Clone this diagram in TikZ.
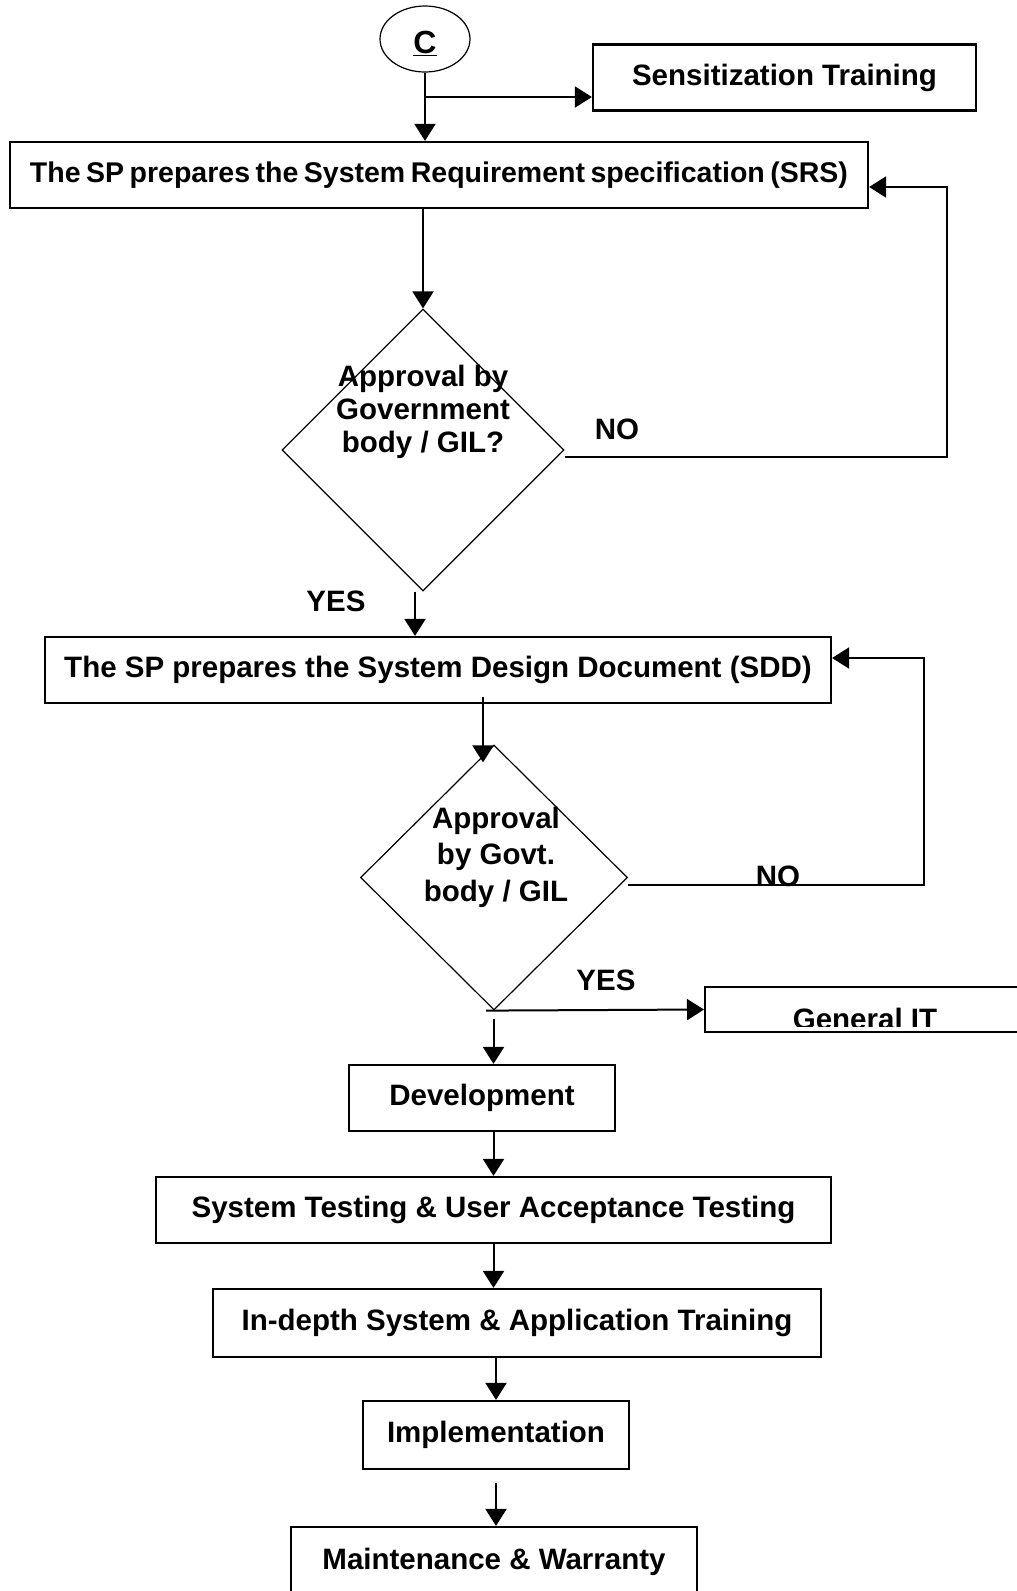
\documentclass[tikz,border=0pt]{standalone}
\usepackage{fontspec}
\setmainfont{Liberation Sans}
\newfontfamily\tightfont[WordSpace=0.7]{Liberation Sans}
\usetikzlibrary{arrows.meta, shapes.geometric}
\usepackage{xcolor}
\definecolor{Ink}{HTML}{000000}

\begin{document}
\begin{tikzpicture}[
    x=1pt, y=-1pt,
    procbox/.style={rectangle, draw=Ink, line width=2.2pt, inner sep=0pt,
        minimum height=66pt, font=\bfseries\fontsize{29.5pt}{35pt}\selectfont,
        text height=21pt, text depth=6pt},
    conlbl/.style={ellipse, draw=Ink, line width=1.2pt, inner sep=0pt,
        minimum width=90pt, minimum height=66pt,
        font=\bfseries\fontsize{32pt}{36pt}\selectfont,
        text height=32pt, text depth=4pt},
    decnode/.style={diamond, draw=Ink, line width=1.2pt, inner sep=0pt},
    dectext/.style={align=center, Ink,
        font=\bfseries\fontsize{29.5pt}{33pt}\selectfont},
    anslbl/.style={Ink, font=\bfseries\fontsize{29.5pt}{35pt}\selectfont},
    flowarr/.style={draw=Ink, line width=2pt,
        -{Triangle[length=17pt, width=21pt]}}
]
\useasboundingbox (0,0) rectangle (1017,1591);

% =============================================
% TOP: connector C, training, SRS
% =============================================
\node[conlbl] (start) at (425, 39) {\underline{C}};
\node[procbox, minimum width=383pt] (sens) at (784.5, 77.5) {Sensitization Training};
\node[procbox, minimum width=858pt,
    font=\tightfont\bfseries\fontsize{28.5pt}{35pt}\selectfont]
    (srs) at (439, 175) {The SP prepares the System Requirement specification (SRS)};

\coordinate (split) at (426, 97);
\draw[flowarr] (start.south) -- (start.south |- srs.north);
\draw[flowarr] (split) -- (split -| sens.west);

% first approval
\node[decnode, minimum width=282pt, minimum height=282pt] (appr1) at (423, 450) {};
\node[dectext] (appr1txt) at (423, 412) {Approval by\\Government\\body / GIL?};
\node[anslbl] (no1) at (617, 429) {NO};
\node[anslbl] (yes1) at (336, 601) {YES};

\draw[flowarr] (srs.south -| appr1.north) -- (appr1.north);

% NO loop back to SRS
\coordinate (loop1) at (947, 457);
\draw[flowarr] (appr1.east |- loop1) -- (loop1) |- ([yshift=-12pt]srs.east);

% =============================================
% MIDDLE: SDD and second approval
% =============================================
\node[procbox, minimum width=786pt] (sdd) at (438, 670)
    {The SP prepares the System Design Document (SDD)};
\draw[flowarr] ([xshift=-8pt]appr1.south) -- ([xshift=-8pt]appr1.south |- sdd.north);

\node[decnode, minimum width=267pt, minimum height=265pt] (appr2) at (494, 877.5) {};
\node[dectext, font=\bfseries\fontsize{29.5pt}{36.5pt}\selectfont]
    (appr2txt) at (496, 857) {Approval\\by Govt.\\body / GIL};
\node[anslbl] (no2) at (778, 876) {NO};
\node[anslbl] (yes2) at (606, 980) {YES};

\draw[flowarr, shorten <=-7pt, shorten >=-18pt]
    ([xshift=45pt]sdd.south) -- ([xshift=45pt]sdd.south |- appr2.north);

% NO loop back to SDD
\coordinate (loop2) at (924, 885);
\draw[flowarr] (appr2.east |- loop2) -- (loop2) |- ([yshift=12pt]sdd.east);

% YES branch to General IT
\node[procbox, minimum width=420pt, minimum height=45pt, anchor=west] (gen) at (704, 1009.5) {};
\begin{scope}
    \clip (gen.north west) rectangle (1017, 1026.7);
    \node[anslbl, anchor=base] (gentxt) at (865, 1029) {General IT};
\end{scope}
\draw[flowarr] ([xshift=-8pt]appr2.south) -- (gen.west);

% =============================================
% BOTTOM: development chain
% =============================================
\node[procbox, minimum width=266pt] (dev) at (482, 1098) {Development};
\node[procbox, minimum width=675pt] (st) at (493.5, 1210) {System Testing \& User Acceptance Testing};
\node[procbox, minimum width=608pt, minimum height=68pt] (ind) at (517, 1323) {In-depth System \& Application Training};
\node[procbox, minimum width=266pt, minimum height=68pt] (impl) at (496, 1435) {Implementation};
\node[procbox, minimum width=406pt, minimum height=70pt] (maint) at (494, 1562) {Maintenance \& Warranty};

\draw[flowarr, shorten <=8pt] (appr2.south -| st.north) -- (dev.north -| st.north);
\draw[flowarr] (dev.south -| st.north) -- (st.north);
\draw[flowarr] (st.south) -- (st.south |- ind.north);
\draw[flowarr] (ind.south -| impl.north) -- (impl.north);
\draw[flowarr, shorten <=13pt] (impl.south) -- (impl.south |- maint.north);

\end{tikzpicture}
\end{document}
